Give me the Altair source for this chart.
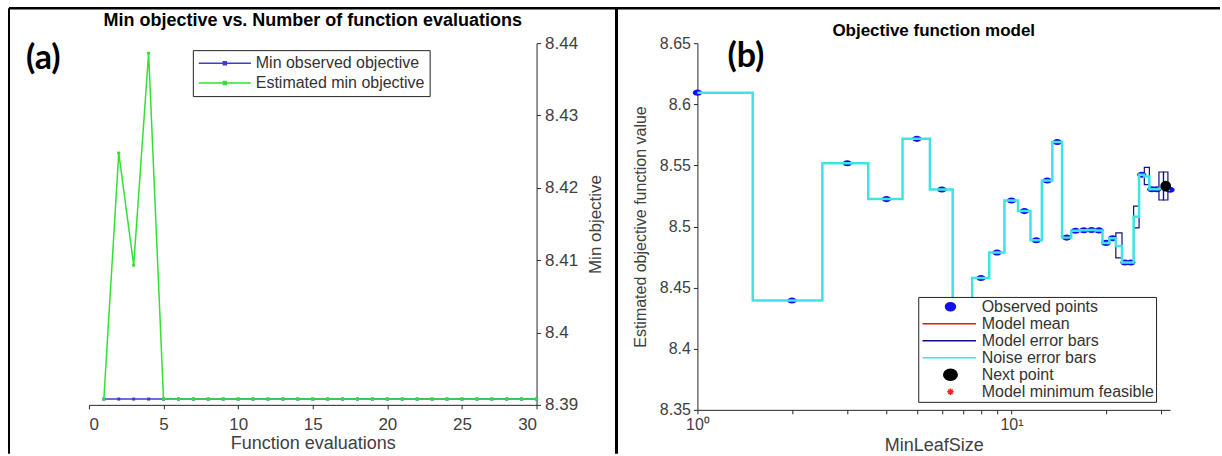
import altair as alt
import pandas as pd

FONT = "Liberation Sans"
AXIS_DARK = "#262626"
TEXT_GRAY = "#404040"

# ---------------- Panel (a) data ----------------
evals = [1, 2, 3, 4, 5, 6, 7, 8, 9, 10, 11, 12, 13, 14, 15,
         16, 17, 18, 19, 20, 21, 22, 23, 24, 25, 26, 27, 28, 29, 30]
min_observed = [8.3908, 8.3908, 8.3908, 8.3908, 8.3908, 8.3908, 8.3908, 8.3908, 8.3908, 8.3908,
                8.3908, 8.3908, 8.3908, 8.3908, 8.3908, 8.3908, 8.3908, 8.3908, 8.3908, 8.3908,
                8.3908, 8.3908, 8.3908, 8.3908, 8.3908, 8.3908, 8.3908, 8.3908, 8.3908, 8.3908]
est_min = [8.3908, 8.4248, 8.4093, 8.4386, 8.3908, 8.3908, 8.3908, 8.3908, 8.3908, 8.3908,
           8.3908, 8.3908, 8.3908, 8.3908, 8.3908, 8.3908, 8.3908, 8.3908, 8.3908, 8.3908,
           8.3908, 8.3908, 8.3908, 8.3908, 8.3908, 8.3908, 8.3908, 8.3908, 8.3908, 8.3908]
series_a = ["Min observed objective", "Estimated min objective"]
colors_a = ["#3c3cd2", "#33e033"]
yticks_a = [8.39, 8.40, 8.41, 8.42, 8.43, 8.44]
xticks_a = [0, 5, 10, 15, 20, 25, 30]
title_a = "Min objective vs. Number of function evaluations"

# ---------------- Panel (b) data ----------------
leaf_obs = [1, 2, 3, 4, 5, 6, 7, 8, 9, 10, 11, 12, 13, 14, 15, 16, 17, 18, 19, 20, 21,
            23, 24, 26, 28, 29, 32]
obj_obs = [8.6095, 8.4395, 8.5518, 8.5224, 8.5717, 8.5303, 8.3910, 8.4578, 8.4787, 8.5213,
           8.5126, 8.4888, 8.5376, 8.5691, 8.4909, 8.4965, 8.4970, 8.4972, 8.4968, 8.4866,
           8.4904, 8.4705, 8.4705, 8.5424, 8.5305, 8.5305, 8.5300]
leaf_model = list(range(1, 33))
model_mean = [8.6095, 8.4395, 8.5518, 8.5224, 8.5717, 8.5303, 8.3910, 8.4578, 8.4787, 8.5213,
              8.5126, 8.4888, 8.5376, 8.5691, 8.4909, 8.4965, 8.4970, 8.4972, 8.4968, 8.4866,
              8.4904, 8.4840, 8.4705, 8.4705, 8.5080, 8.5424, 8.5410, 8.5305, 8.5305, 8.5310,
              8.5330, 8.5300]
box_leaf = [22, 25, 27, 30, 31]
box_lo = [8.4744, 8.4989, 8.5343, 8.5217, 8.5217]
box_hi = [8.4948, 8.5166, 8.5484, 8.5446, 8.5446]
next_leaf = [31]
next_obj = [8.5330]
leg_cats = ["Observed points", "Model mean", "Model error bars", "Noise error bars",
            "Next point", "Model minimum feasible"]
leg_colors = ["#1010ee", "#e01818", "#101080", "#3ee3e6", "#000000", "#ff2020"]
yticks_b = [8.35, 8.40, 8.45, 8.50, 8.55, 8.60, 8.65]
xticks_b = [1, 2, 3, 4, 5, 6, 7, 8, 9, 10, 20, 30]
LEAF_MAX = 32
title_b = "Objective function model"

W_A, H_A = 448, 362
W_B, H_B = 473, 367

# ---------------- Panel (a) ----------------
leg_a_symbol = "M-1.42,0H9.02M3.5,-0.3H4.1V0.3H3.5Z"
leg_a = alt.Legend(title=None, orient="none", legendX=104, legendY=7, fillColor="white",
                   strokeColor="#222222", padding=5, labelFont=FONT, labelFontSize=16,
                   labelColor="#333333", symbolType=leg_a_symbol, symbolSize=100,
                   symbolStrokeWidth=1.5, labelOffset=42, rowPadding=4, labelLimit=400)

x_a = alt.X("evals:Q", scale=alt.Scale(domain=[0, 30], nice=False),
            axis=alt.Axis(values=xticks_a, title="Function evaluations", grid=False,
                          tickSize=4, labelPadding=8, titlePadding=2,
                          domainColor=AXIS_DARK, tickColor=AXIS_DARK,
                          labelColor=TEXT_GRAY, titleColor=TEXT_GRAY,
                          labelFont=FONT, titleFont=FONT, labelFontSize=17,
                          titleFontSize=18, titleFontWeight="normal"))
y_a = alt.Y("value:Q", scale=alt.Scale(domain=[8.39, 8.44], nice=False, zero=False),
            axis=alt.Axis(orient="right", values=yticks_a, format=".2~f", title="Min objective",
                          grid=False, tickSize=4, labelPadding=4, titlePadding=10,
                          titleAngle=270, titleBaseline="top",
                          domainColor=AXIS_DARK, tickColor=AXIS_DARK,
                          labelColor=TEXT_GRAY, titleColor=TEXT_GRAY,
                          labelFont=FONT, titleFont=FONT, labelFontSize=17,
                          titleFontSize=17, titleFontWeight="normal"))
color_a = alt.Color("series:N", scale=alt.Scale(domain=series_a, range=colors_a), legend=leg_a)

df_blue = pd.DataFrame({"evals": evals, "value": min_observed, "series": series_a[0]})
df_green = pd.DataFrame({"evals": evals, "value": est_min, "series": series_a[1]})

line_style = dict(strokeWidth=1.5,
                  point=alt.OverlayMarkDef(filled=True, shape="square", size=9, opacity=1))
blue = alt.Chart(df_blue).mark_line(**line_style).encode(x=x_a, y=y_a, color=color_a)
green = alt.Chart(df_green).mark_line(**line_style).encode(x=x_a, y=y_a, color=color_a)

one = pd.DataFrame({"k": [0]})
left_border = alt.Chart(one).mark_rule(color="black", strokeWidth=2).encode(
    x=alt.value(-80), y=alt.value(-35), y2=alt.value(411))
top_border = alt.Chart(one).mark_rule(color="black", strokeWidth=2.5).encode(
    x=alt.value(-80), x2=alt.value(1132), y=alt.value(-35))
separator = alt.Chart(one).mark_rule(color="black", strokeWidth=3).encode(
    x=alt.value(528), y=alt.value(-35), y2=alt.value(411))
label_a = alt.Chart(pd.DataFrame({"t": ["(a)"]})).mark_text(
    font="Lato", fontSize=34, fontWeight="bold", align="left", baseline="middle", color="black"
).encode(x=alt.value(-63), y=alt.value(16), text="t:N")
head_a = alt.Chart(pd.DataFrame({"t": [title_a]})).mark_text(
    font=FONT, fontSize=18, fontWeight="bold", align="center", baseline="middle", color="black"
).encode(x=alt.value(W_A / 2), y=alt.value(-22), text="t:N")

panel_a = alt.layer(blue, green, left_border, top_border, separator, label_a, head_a).properties(
    width=W_A, height=H_A)

# ---------------- Panel (b) ----------------
steps = []
for i, (k, m) in enumerate(zip(leaf_model, model_mean)):
    steps.append({"i": 2 * i, "leaf": max(1, k - 0.5), "obj": m})
    steps.append({"i": 2 * i + 1, "leaf": min(LEAF_MAX, k + 0.5), "obj": m})
df_steps = pd.DataFrame(steps)
df_obs = pd.DataFrame({"leaf": leaf_obs, "obj": obj_obs})
df_box = pd.DataFrame({"leaf": [k - 0.5 for k in box_leaf], "leaf2": [k + 0.5 for k in box_leaf],
                       "obj": box_lo, "obj2": box_hi})
df_next = pd.DataFrame({"leaf": next_leaf, "obj": next_obj})

x_b = alt.X("leaf:Q", scale=alt.Scale(type="log", domain=[1, LEAF_MAX], nice=False),
            axis=alt.Axis(values=xticks_b, title="MinLeafSize", grid=False, tickSize=4,
                          labelExpr="datum.value == 1 ? '10⁰' : (datum.value == 10 ? '10¹' : '')",
                          labelPadding=3, titlePadding=4, labelOverlap=False, labelFlush=False,
                          domainColor=AXIS_DARK, tickColor=AXIS_DARK,
                          labelColor=TEXT_GRAY, titleColor=TEXT_GRAY,
                          labelFont=FONT, titleFont=FONT, labelFontSize=16,
                          titleFontSize=18, titleFontWeight="normal"))
y_b = alt.Y("obj:Q", scale=alt.Scale(domain=[8.35, 8.65], nice=False, zero=False),
            axis=alt.Axis(values=yticks_b, format=".2~f", title="Estimated objective function value",
                          grid=False, tickSize=4, labelPadding=3, titlePadding=11,
                          domainColor=AXIS_DARK, tickColor=AXIS_DARK,
                          labelColor=TEXT_GRAY, titleColor=TEXT_GRAY,
                          labelFont=FONT, titleFont=FONT, labelFontSize=16,
                          titleFontSize=16, titleFontWeight="normal"))

obs_shape = "M-1,0A1,0.66,0,1,0,1,0A1,0.66,0,1,0,-1,0Z"
obs_pts = alt.Chart(df_obs).mark_point(filled=True, shape=obs_shape, size=85, opacity=1,
                                       color="#1010ee").encode(x=x_b, y=y_b)
mean_line = alt.Chart(df_steps).mark_line(color="#e01818", strokeWidth=1).encode(
    x=x_b, y=y_b, order="i:Q")
boxes = alt.Chart(df_box).mark_rect(fillOpacity=0, stroke="#101080", strokeWidth=1.2).encode(
    x=x_b, x2="leaf2:Q", y=y_b, y2="obj2:Q")
noise_line = alt.Chart(df_steps).mark_line(color="#3ee3e6", strokeWidth=2.5).encode(
    x=x_b, y=y_b, order="i:Q")
next_pt = alt.Chart(df_next).mark_point(filled=True, shape="circle", size=115, opacity=1,
                                        color="black").encode(x=x_b, y=y_b)

# legend symbols (custom paths in legend symbol units)
line_sym = "M-1.05,0H9.65"
leg_shapes = [
    "M3.55,0A1,0.8,0,1,0,5.55,0A1,0.8,0,1,0,3.55,0Z",
    line_sym, line_sym, line_sym,
    "M3.2,0A1.35,1.1,0,1,0,5.9,0A1.35,1.1,0,1,0,3.2,0Z",
    "M3.9,0H5.2M4.55,-0.65V0.65M4.1,-0.45L5.0,0.45M4.1,0.45L5.0,-0.45",
]
leg_b = alt.Legend(title=None, orient="none", legendX=221, legendY=254, fillColor="white",
                   strokeColor="#222222", padding=1.5, labelFont=FONT, labelFontSize=16,
                   labelColor="#333333", symbolSize=100, symbolStrokeWidth=1.5,
                   labelOffset=46, rowPadding=0, clipHeight=16.7, labelLimit=400)
legend_layer = alt.Chart(pd.DataFrame({"cat": leg_cats})).mark_point(filled=True, opacity=1).encode(
    fill=alt.Fill("cat:N", scale=alt.Scale(domain=leg_cats, range=leg_colors), legend=leg_b),
    stroke=alt.Stroke("cat:N", scale=alt.Scale(domain=leg_cats, range=leg_colors), legend=leg_b),
    shape=alt.Shape("cat:N", scale=alt.Scale(domain=leg_cats, range=leg_shapes), legend=leg_b),
).transform_filter("false")

label_b = alt.Chart(pd.DataFrame({"t": ["(b)"]})).mark_text(
    font="Lato", fontSize=34, fontWeight="bold", align="left", baseline="middle", color="black"
).encode(x=alt.value(30), y=alt.value(14), text="t:N")
head_b = alt.Chart(pd.DataFrame({"t": [title_b]})).mark_text(
    font=FONT, fontSize=17, fontWeight="bold", align="center", baseline="middle", color="black"
).encode(x=alt.value(W_B / 2), y=alt.value(-12), text="t:N")

panel_b = alt.layer(obs_pts, mean_line, boxes, noise_line, next_pt, legend_layer,
                    label_b, head_b).properties(width=W_B, height=H_B)

chart = alt.hconcat(panel_a, panel_b, spacing=161, bounds="flush").resolve_scale(
    color="independent", fill="independent", stroke="independent", shape="independent"
).resolve_legend(
    color="independent", fill="independent", stroke="independent", shape="independent"
).properties(
    padding={"left": 7, "top": 6, "right": 0, "bottom": 0}, background="white"
).configure_view(stroke=None)

chart.save("out.html", embed_options={"renderer": "svg", "actions": False})
